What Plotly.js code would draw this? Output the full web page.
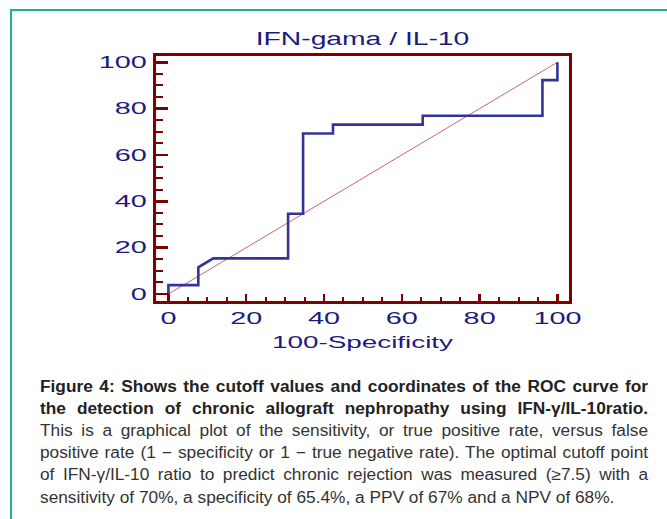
<!DOCTYPE html>
<html>
<head>
<meta charset="utf-8">
<script src="https://cdn.plot.ly/plotly-3.0.1.min.js"></script>
<style>
  html, body { margin: 0; padding: 0; background: #ffffff; }
  body { width: 667px; height: 519px; position: relative; overflow: hidden; }
  #chart { position: absolute; left: 0; top: 0; width: 667px; height: 519px; }
  .bTop { position: absolute; left: 10px; top: 9px; width: 657px; height: 2px; background: #1ab394; }
  .bLeft { position: absolute; left: 10px; top: 9px; width: 2px; height: 510px; background: #1ab394; }
  #caption { position: absolute; left: 40px; top: 375.6px; width: 563px;
    transform: scaleX(1.08); transform-origin: 0 0;
    font-family: "Liberation Sans", Arial, sans-serif; font-size: 16px; line-height: 22.2px; color: #333333; }
  #caption div { white-space: nowrap; }
  #caption .j { text-align: justify; text-align-last: justify; white-space: normal; }
  #caption .b { font-weight: bold; color: #222222; }
</style>
</head>
<body>
<div class="bTop"></div>
<div class="bLeft"></div>
<div id="chart"></div>
<div id="caption">
  <div class="j b">Figure 4: Shows the cutoff values and coordinates of the ROC curve for</div>
  <div class="j b">the detection of chronic allograft nephropathy using IFN-γ/IL-10ratio.</div>
  <div class="j">This is a graphical plot of the sensitivity, or true positive rate, versus false</div>
  <div class="j">positive rate (1 − specificity or 1 − true negative rate). The optimal cutoff point</div>
  <div class="j">of IFN-γ/IL-10 ratio to predict chronic rejection was measured (≥7.5) with a</div>
  <div>sensitivity of 70%, a specificity of 65.4%, a PPV of 67% and a NPV of 68%.</div>
</div>
<script>
// ROC curve: 100-Specificity (x) vs Sensitivity (y)
var rocX = [0, 0, 7.69, 7.69, 11.54, 30.77, 30.77, 34.62, 34.62, 42.31, 42.31, 65.38, 65.38, 96.15, 96.15, 100, 100];
var rocY = [0, 3.85, 3.85, 11.54, 15.38, 15.38, 34.62, 34.62, 69.23, 69.23, 73.08, 73.08, 76.92, 76.92, 92.31, 92.31, 100];
// reference (chance) line
var diagX = [0, 100];
var diagY = [0, 100];
var tickVals = [0, 20, 40, 60, 80, 100];
var tickText = ['0', '20', '40', '60', '80', '100'];
var chartTitle = 'IFN-gama / IL-10';
var xTitle = '100-Specificity';

var FONT = '"Liberation Sans", Arial, sans-serif';
var NAVY = '#1a1a80';
var FRAME = '#800000';

var data = [
  { x: diagX, y: diagY, mode: 'lines', line: { color: '#c86868', width: 1 }, hoverinfo: 'skip', showlegend: false },
  { x: rocX, y: rocY, mode: 'lines', line: { color: '#333399', width: 2.6 }, showlegend: false }
];

function axisCommon(len, minorLen) {
  return {
    showgrid: false, zeroline: false,
    showline: true, mirror: true, linecolor: FRAME, linewidth: 3,
    ticks: 'inside', ticklen: len, tickwidth: 2.5, tickcolor: FRAME,
    tickmode: 'array', tickvals: tickVals, ticktext: tickText,
    tickfont: { family: FONT, size: 16, color: NAVY },
    minor: { dtick: 5, ticks: 'inside', ticklen: minorLen, tickwidth: 2, tickcolor: FRAME, showgrid: false },
    fixedrange: true
  };
}

var xa = axisCommon(7, 4);
xa.range = [-3.19, 102.98];
xa.title = { text: xTitle, font: { family: FONT, size: 16, color: NAVY }, standoff: 11 };
xa.ticklabelstandoff = 1;
var ya = axisCommon(12, 7);
ya.range = [-3.02, 102.7];
ya.ticklabelstandoff = 3;

var layout = {
  width: 667, height: 519,
  margin: { l: 156, r: 98, t: 56, b: 218, pad: 0 },
  paper_bgcolor: 'rgba(0,0,0,0)', plot_bgcolor: '#ffffff',
  title: { text: chartTitle, font: { family: FONT, size: 18, color: NAVY }, x: 0.5, xref: 'paper',
           y: 1 - 39 / 519, yref: 'container', yanchor: 'middle' },
  xaxis: xa, yaxis: ya,
  showlegend: false
};

function stretch(sel, factor) {
  var els = document.querySelectorAll(sel);
  els.forEach(function (el) {
    var w = el.getComputedTextLength();
    if (w > 0) {
      el.setAttribute('textLength', (w * factor).toFixed(2));
      el.setAttribute('lengthAdjust', 'spacingAndGlyphs');
    }
  });
}

Plotly.newPlot('chart', data, layout, { displayModeBar: false, staticPlot: true }).then(function () {
  stretch('#chart .xtick text', 1.8);
  stretch('#chart .ytick text', 1.8);
  stretch('#chart .g-gtitle text', 1.57);
  stretch('#chart .g-xtitle text', 1.74);
});
</script>
</body>
</html>
